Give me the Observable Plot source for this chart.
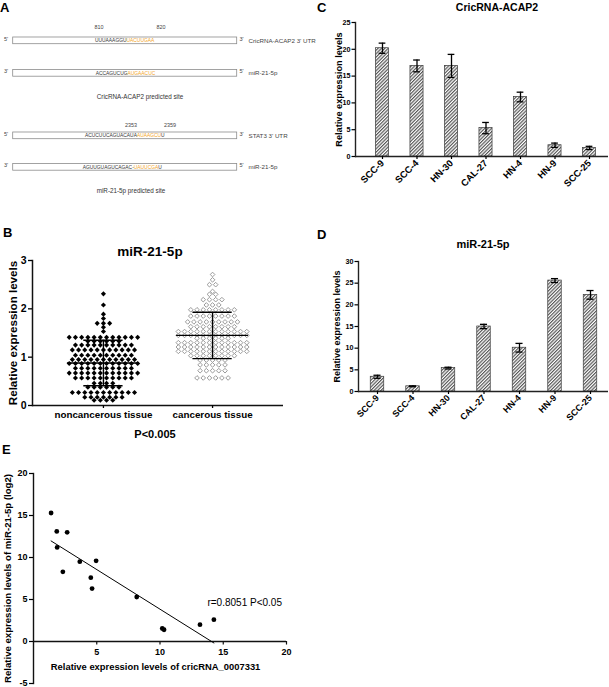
<!DOCTYPE html>
<html><head><meta charset="utf-8">
<script src="https://cdn.jsdelivr.net/npm/d3@7"></script>
<script src="https://cdn.jsdelivr.net/npm/@observablehq/plot@0.6"></script>
<style>
body{margin:0;background:#fff;}
#fig{position:relative;width:609px;height:687px;overflow:hidden;font-family:"Liberation Sans",Arial,Helvetica,sans-serif;color:#000;}
.t{position:absolute;font-weight:bold;line-height:1;white-space:nowrap;}
</style></head><body>
<svg width="0" height="0" style="position:absolute"><defs>
<pattern id="hatch" patternUnits="userSpaceOnUse" width="2.4" height="2.4" patternTransform="rotate(45)">
<rect width="2.4" height="2.4" fill="#fff"/><line x1="0.6" y1="0" x2="0.6" y2="2.4" stroke="#4a4a4a" stroke-width="1.1"/>
</pattern></defs></svg>
<div id="fig"></div>
<script>
// ---------------- data ----------------
// Panel A
const aEnds = [["5'","3'"],["3'","5'"],["5'","3'"],["3'","5'"]];
const aNames = ["CricRNA-ACAP2 3' UTR","miR-21-5p","STAT3 3' UTR","miR-21-5p"];
const aSeqPre = ["UUUAAAGGU","ACCAGUCUG","ACUCUUCAGUACAUA","AGUUGUAGUCAGAC-"];
const aSeqHit = ["UACUUGAA","AUGAACUC","AUAAGCU","UAUUCGA"];
const aSeqPost = ["","","U","U"];
const aNumbers = [["810","820"],["2353","2359"]];
const aCaptions = ["CricRNA-ACAP2 predicted site","miR-21-5p predicted site"];

// Panel B (rows of the scatter: value and number of samples in the row)
const bCats = ["noncancerous tissue","cancerous tissue"];
const nonY = [2.31,2.08,1.89,1.80,1.70,1.62,1.53,1.41,1.33,1.25,1.15,1.04,0.95,0.87,0.77,0.67,0.57,0.46,0.38,0.27,0.17,0.11];
const nonN = [1,1,1,1,3,1,1,12,6,10,11,10,11,12,10,12,10,4,6,11,7,4];
const canY = [2.71,2.60,2.50,2.36,2.30,2.19,2.08,1.98,1.85,1.73,1.63,1.53,1.45,1.39,1.30,1.21,1.12,1.03,0.94,0.84,0.72,0.57];
const canN = [1,1,2,1,2,4,3,8,8,9,8,12,12,6,12,12,12,8,5,5,5,6];
const bMean = [0.88,1.45];
const bSD = [0.47,0.48];
const bTitle = "miR-21-5p";
const bP = "P<0.005";

// Panels C, D
const cellLines = ["SCC-9","SCC-4","HN-30","CAL-27","HN-4","HN-9","SCC-25"];
const cMean = [20.2,16.9,16.9,5.3,11.1,2.1,1.6];
const cErr = [0.95,1.1,2.15,1.05,0.9,0.4,0.3];
const dMean = [3.4,1.2,5.4,15.0,10.1,25.6,22.3];
const dErr = [0.35,0.1,0.2,0.5,1.0,0.45,1.0];
const cTitle = "CricRNA-ACAP2";
const dTitle = "miR-21-5p";
const yLabelExpr = "Relative expression levels";

// Panel E
const eX = [1.39,1.84,2.66,1.87,2.32,3.66,4.95,4.53,4.63,8.16,10.18,10.32,13.16,14.26];
const eY = [15.3,13.1,13.0,11.2,8.3,9.5,9.6,7.6,6.3,5.3,1.55,1.4,2.0,2.6];
const eXTicks = [5,10,15,20];
const eYTicks = [-5,0,5,10,15,20];
const eXLabel = "Relative expression levels of cricRNA_0007331";
const eYLabel = "Relative expression levels of miR-21-5p (log2)";
const eAnno = "r=0.8051 P<0.05";

// ---------------- helpers ----------------
const FONT = '"Liberation Sans", Arial, Helvetica, sans-serif';
const figEl = document.getElementById("fig");
function place(node, left, top) {
  const d = document.createElement("div");
  d.style.cssText = `position:absolute;left:${left}px;top:${top}px;`;
  d.appendChild(node);
  figEl.appendChild(d);
}
function txt(s, left, capTop, size, center) {
  const d = document.createElement("div");
  d.className = "t";
  d.textContent = s;
  d.style.fontSize = size + "px";
  d.style.top = (capTop - 0.13 * size) + "px";
  if (center) { d.style.left = (left - 150) + "px"; d.style.width = "300px"; d.style.textAlign = "center"; }
  else d.style.left = left + "px";
  figEl.appendChild(d);
}

// ---------------- Panel A ----------------
(function(){
  const boxTops = [37, 69.5, 132, 163.5];
  const seqX = [95, 95.7, 85, 82.7];
  const numX = [[99,161],[131,170]];
  const numY = [29, 126.5];
  const capX = [140, 131];
  const capY = [98.5, 192.5];
  const svg = d3.create("svg").attr("width", 320).attr("height", 200).style("font-family", FONT);
  boxTops.forEach((t, i) => {
    svg.append("rect").attr("x", 12.7).attr("y", t).attr("width", 224).attr("height", 6.7)
      .attr("fill", "#fff").attr("stroke", "#8c8c8c").attr("stroke-width", 0.8);
    svg.append("text").attr("x", 4).attr("y", t + 3.8).attr("font-size", 5.5).attr("fill", "#444").text(aEnds[i][0]);
    svg.append("text").attr("x", 239.5).attr("y", t + 3.8).attr("font-size", 5.5).attr("fill", "#444").text(aEnds[i][1]);
    svg.append("text").attr("x", 248.5).attr("y", t + 5.7).attr("font-size", 6.2).attr("fill", "#444").text(aNames[i]);
    const s = svg.append("text").attr("x", seqX[i]).attr("y", t + 5.1).attr("font-size", 4.9).attr("fill", "#333");
    s.append("tspan").text(aSeqPre[i]);
    s.append("tspan").attr("fill", "#f2a51f").text(aSeqHit[i]);
    s.append("tspan").text(aSeqPost[i]);
  });
  [0,1].forEach(k => {
    aNumbers[k].forEach((n, j) => svg.append("text").attr("x", numX[k][j]).attr("y", numY[k])
      .attr("text-anchor", "middle").attr("font-size", 5.4).attr("fill", "#444").text(n));
    svg.append("text").attr("x", capX[k]).attr("y", capY[k]).attr("text-anchor", "middle")
      .attr("font-size", 6.3).attr("fill", "#333").text(aCaptions[k]);
  });
  place(svg.node(), 0, 0);
})();

// ---------------- Panel B ----------------
(function(){
  const step = 0.057;
  const expand = (ys, ns, cat) => ys.flatMap((y, r) => d3.range(ns[r]).map(k => ({x: cat + (k - (ns[r] - 1) / 2) * step, y})));
  const nonPts = expand(nonY, nonN, 0);
  const canPts = expand(canY, canN, 1);
  const stats = bMean.map((m, i) => ({i, mean: m, lo: m - bSD[i], hi: m + bSD[i]}));
  const chart = Plot.plot({
    width: 300, height: 180, marginTop: 10, marginBottom: 25, marginLeft: 32, marginRight: 17,
    style: {fontFamily: FONT, fontWeight: "bold", color: "#000", background: "transparent", overflow: "visible"},
    x: {domain: [-0.65, 1.65]},
    y: {domain: [0, 3]},
    marks: [
      Plot.dot(nonPts, {x: "x", y: "y", symbol: "diamond2", r: 2.3, fill: "#000", stroke: "none"}),
      Plot.dot(canPts, {x: "x", y: "y", symbol: "diamond2", r: 2.1, fill: "#fff", stroke: "#9a9a9a", strokeWidth: 1}),
      Plot.ruleY(stats, {y: "mean", x1: d => d.i - 0.33, x2: d => d.i + 0.33, stroke: "#000", strokeWidth: 1.4}),
      Plot.ruleY(stats, {y: "lo", x1: d => d.i - 0.18, x2: d => d.i + 0.18, stroke: "#000", strokeWidth: 1.4}),
      Plot.ruleY(stats, {y: "hi", x1: d => d.i - 0.18, x2: d => d.i + 0.18, stroke: "#000", strokeWidth: 1.4}),
      Plot.ruleX(stats, {x: "i", y1: "lo", y2: "hi", stroke: "#000", strokeWidth: 1.4}),
      Plot.frame({anchor: "left", stroke: "#111", strokeWidth: 1.5}),
      Plot.ruleY([0], {stroke: "#111", strokeWidth: 1.5}),
      Plot.axisY({ticks: [0,1,2,3], tickFormat: d => String(d), tickSize: 4, tickPadding: 2, fontSize: 10.5, label: null, strokeWidth: 1.3}),
      Plot.axisX({ticks: [0,1], tickFormat: i => bCats[i], tickSize: 3, tickPadding: 3, fontSize: 9.8, label: null, strokeWidth: 1.3}),
      Plot.text([yLabelExpr], {frameAnchor: "left", textAnchor: "middle", rotate: -90, dx: -19.5, fontSize: 11.6})
    ]
  });
  place(chart, 0, 250);
})();

// ---------------- Panels C and D ----------------
function barPanel(means, errs, o) {
  const data = cellLines.map((l, i) => ({line: l, mean: means[i], lo: means[i] - errs[i], hi: means[i] + errs[i]}));
  return Plot.plot({
    width: o.w, height: o.h, marginTop: o.mt, marginBottom: o.mb, marginLeft: o.ml, marginRight: o.mr,
    style: {fontFamily: FONT, fontWeight: "bold", color: "#000", background: "transparent", overflow: "visible"},
    x: {domain: cellLines, range: o.xRange, paddingInner: 0.62, paddingOuter: 0.31, round: false},
    y: {domain: [0, o.yMax]},
    marks: [
      Plot.barY(data, {x: "line", y: "mean", fill: "url(#hatch)", stroke: "#3a3a3a", strokeWidth: 0.7}),
      Plot.ruleX(data, {x: "line", y1: "lo", y2: "hi", stroke: "#000", strokeWidth: 1.3}),
      Plot.tickY(data, {x: "line", y: "lo", insetLeft: 3.2, insetRight: 3.2, stroke: "#000", strokeWidth: 1.3}),
      Plot.tickY(data, {x: "line", y: "hi", insetLeft: 3.2, insetRight: 3.2, stroke: "#000", strokeWidth: 1.3}),
      Plot.frame({anchor: "left", stroke: "#222", strokeWidth: 1.4}),
      Plot.ruleY([0], {stroke: "#222", strokeWidth: 1.4}),
      Plot.axisY({ticks: o.yTicks, tickFormat: d => String(d), tickSize: 3.5, tickPadding: 1.5, fontSize: o.tickFont, label: null, strokeWidth: 1.2}),
      Plot.axisX({tickSize: 3, tickPadding: 2, tickRotate: -45, fontSize: o.xFont, label: null, strokeWidth: 1.2}),
      Plot.text([yLabelExpr], {frameAnchor: "left", textAnchor: "middle", rotate: -90, dx: o.labelDx, fontSize: o.labelFont})
    ]
  });
}
place(barPanel(cMean, cErr, {w: 309, h: 200, mt: 22, mb: 44, ml: 55, mr: 1, xRange: [64.75, 306.25],
  yMax: 25, yTicks: [0,5,10,15,20,25], tickFont: 7.2, xFont: 9.5, labelDx: -16, labelFont: 9.2}), 300, 0);
place(barPanel(dMean, dErr, {w: 309, h: 180, mt: 11, mb: 39, ml: 58, mr: 1, xRange: [59.25, 307.75],
  yMax: 30, yTicks: [0,5,10,15,20,25,30], tickFont: 7.2, xFont: 9, labelDx: -21, labelFont: 9}), 300, 250);

// ---------------- Panel E ----------------
(function(){
  const pts = eX.map((x, i) => ({x, y: eY[i]}));
  const chart = Plot.plot({
    width: 300, height: 232, marginTop: 18, marginBottom: 4, marginLeft: 33, marginRight: 14,
    style: {fontFamily: FONT, fontWeight: "bold", color: "#000", background: "transparent", overflow: "visible"},
    x: {domain: [0, 20], axis: null},
    y: {domain: [-5, 20]},
    marks: [
      Plot.frame({anchor: "left", stroke: "#111", strokeWidth: 1.4}),
      Plot.ruleY([0], {stroke: "#111", strokeWidth: 1.4}),
      Plot.axisY({ticks: eYTicks, tickFormat: d => String(d), tickSize: 4, tickPadding: 2, fontSize: 9, label: null, strokeWidth: 1.2}),
      Plot.ruleX(eXTicks, {x: d => d, y1: 0, y2: -0.42, stroke: "#111", strokeWidth: 1.2}),
      Plot.text(eXTicks, {x: d => d, y: 0, dy: 11, text: d => String(d), fontSize: 9}),
      Plot.linearRegressionY(pts, {x: "x", y: "y", ci: 0, stroke: "#000", strokeWidth: 1}),
      Plot.dot(pts, {x: "x", y: "y", r: 2.4, fill: "#000"}),
      Plot.text([eXLabel], {x: 9.65, y: -3.05, fontSize: 9.4}),
      Plot.text([eAnno], {x: 13.75, y: 4.6, textAnchor: "start", fontWeight: "normal", fontSize: 10}),
      Plot.text([eYLabel], {frameAnchor: "left", textAnchor: "middle", rotate: -90, dx: -26, fontSize: 9.6})
    ]
  });
  place(chart, 0, 455);
})();

// ---------------- titles and panel letters ----------------
txt("A", 0, 3, 13); txt("B", 3, 228, 13); txt("C", 317, 3, 13); txt("D", 317, 230, 13); txt("E", 2, 445, 13);
txt(bTitle, 150, 247, 13.5, true);
txt(cTitle, 497, 3, 10.5, true);
txt(dTitle, 483, 240, 11, true);
txt(bP, 155, 430, 11, true);
</script></body></html>
